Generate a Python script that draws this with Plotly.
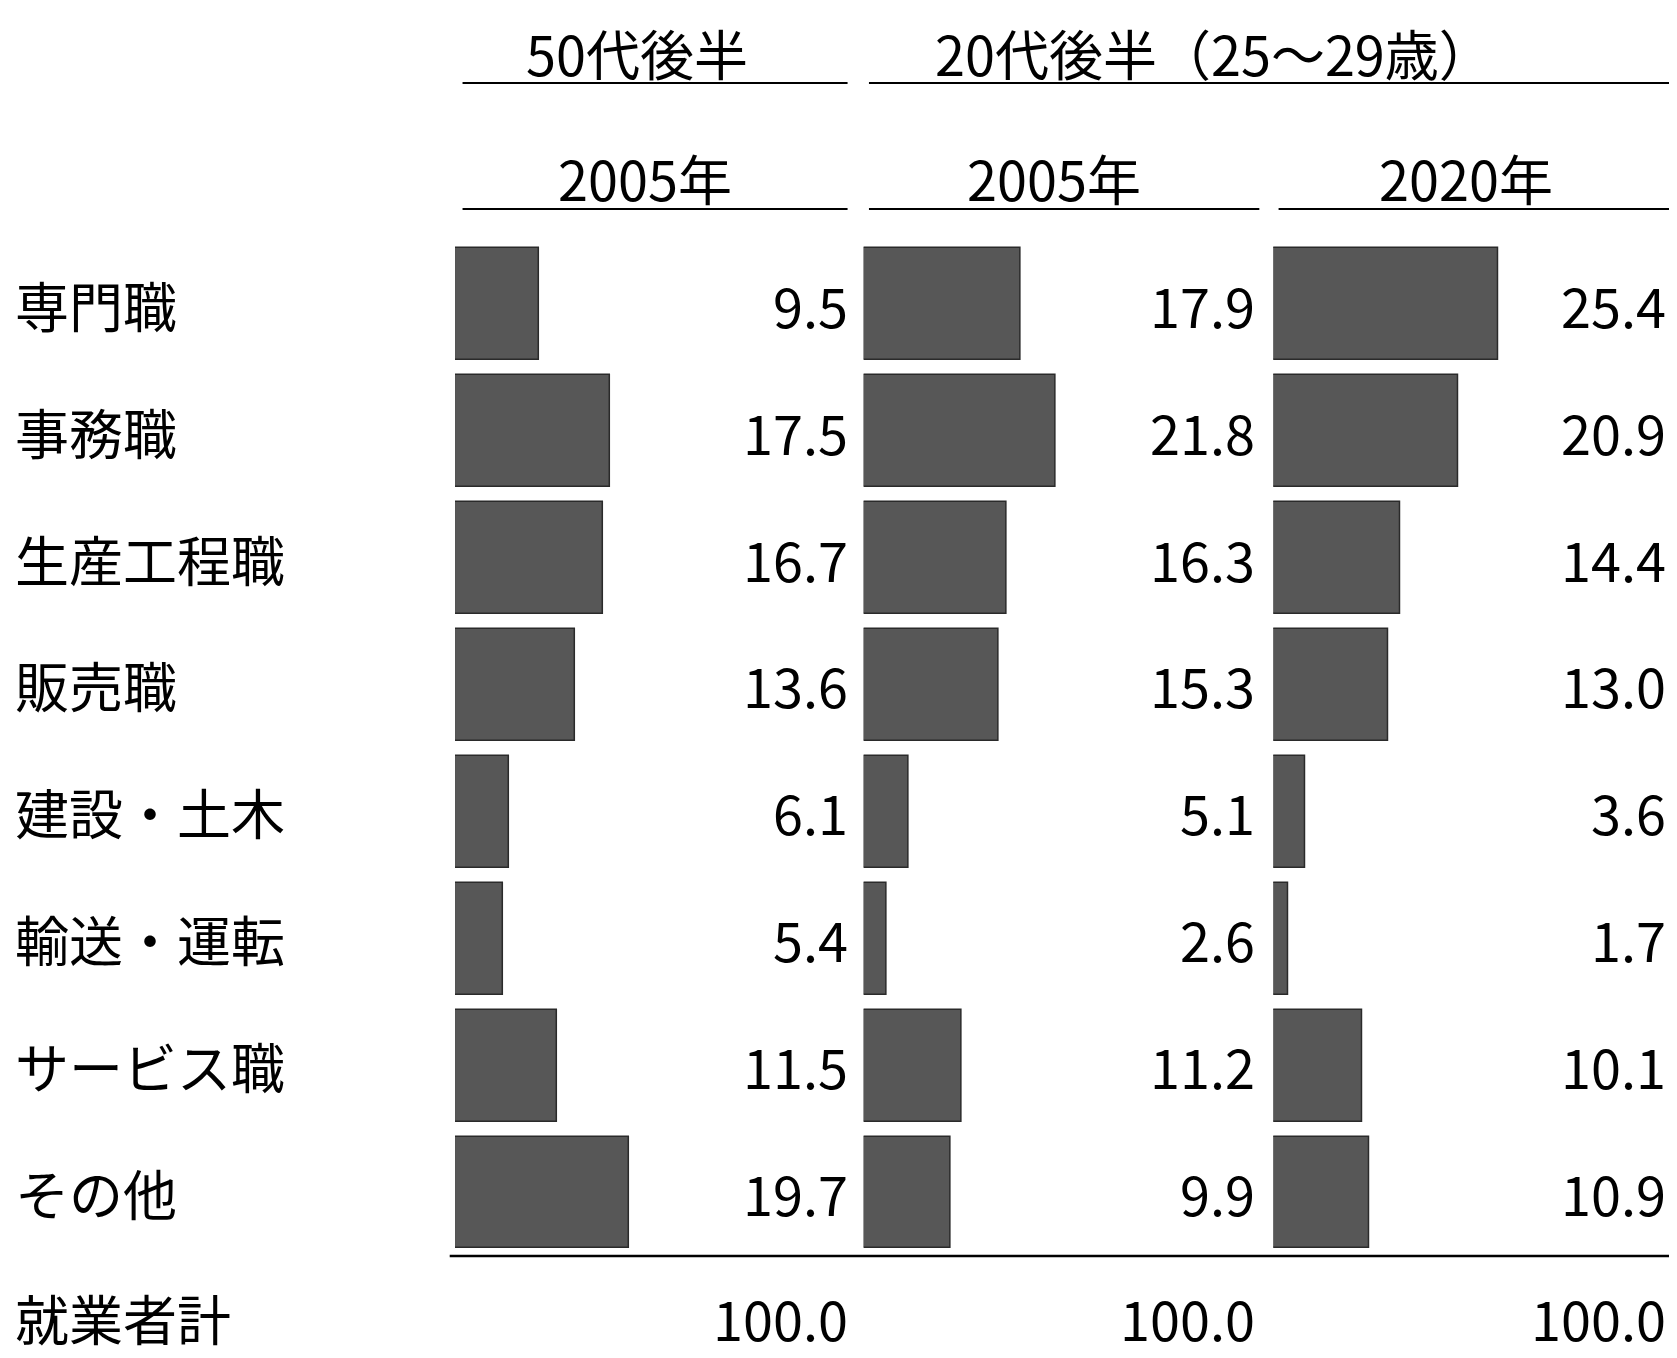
import plotly.graph_objects as go

categories = ["専門職", "事務職", "生産工程職", "販売職", "建設・土木", "輸送・運転", "サービス職", "その他"]
s50_2005 = [9.5, 17.5, 16.7, 13.6, 6.1, 5.4, 11.5, 19.7]
s20_2005 = [17.9, 21.8, 16.3, 15.3, 5.1, 2.6, 11.2, 9.9]
s20_2020 = [25.4, 20.9, 14.4, 13.0, 3.6, 1.7, 10.1, 10.9]
total_label = "就業者計"
totals = ["100.0", "100.0", "100.0"]
series = [s50_2005, s20_2005, s20_2020]
year_labels = ["2005年", "2005年", "2020年"]
group_labels = ["50代後半", "20代後半（25～29歳）"]

W = 1568.0
doms = [[418/W, 790/W], [800/W, 1170/W], [1183/W, 1555/W]]
right_edge = [787/W, 1168/W, 1552/W]
year_left = [512/W, 895/W, 1280/W]
FONT = "Noto Sans CJK JP"
fig = go.Figure()
ys = list(range(len(categories)))
for k, vals in enumerate(series):
    xa = "x" if k == 0 else f"x{k+1}"
    fig.add_trace(go.Bar(x=vals, y=ys, orientation="h", xaxis=xa, yaxis="y",
                         marker=dict(color="#575757", line=dict(color="#2a2a2a", width=1.5)),
                         width=0.88, showlegend=False, hoverinfo="x"))
    for i, v in enumerate(vals):
        fig.add_annotation(x=right_edge[k], xref="paper", y=i, yref="y", text=f"{v:.1f}",
                           showarrow=False, xanchor="right", font=dict(size=54, color="black", family=FONT))
    fig.add_annotation(x=right_edge[k], xref="paper", y=7.98, yref="y", text=totals[k],
                       showarrow=False, xanchor="right", font=dict(size=54, color="black", family=FONT))
    x0, x1 = [425/W, 805/W, 1188/W][k], [785/W, 1170/W, 1555/W][k]
    fig.add_annotation(x=year_left[k], xref="paper", y=-1.0, yref="y", text=year_labels[k],
                       showarrow=False, xanchor="left", font=dict(size=54, color="black", family=FONT))
    fig.add_shape(type="line", xref="paper", yref="y", x0=x0, x1=x1, y0=-0.75, y1=-0.75,
                  line=dict(color="black", width=2))

for i, c in enumerate(categories):
    fig.add_annotation(x=5/W, xref="paper", y=i, yref="y", text=c, showarrow=False,
                       xanchor="left", font=dict(size=54, color="black", family=FONT))
fig.add_annotation(x=5/W, xref="paper", y=7.98, yref="y", text=total_label, showarrow=False,
                   xanchor="left", font=dict(size=54, color="black", family=FONT))

for (x0, x1), xl, t in zip([(425/W, 785/W), (805/W, 1555/W)], [482/W, 865/W], group_labels):
    fig.add_annotation(x=xl, xref="paper", y=-1.98, yref="y", text=t, showarrow=False,
                       xanchor="left", font=dict(size=54, color="black", family=FONT))
    fig.add_shape(type="line", xref="paper", yref="y", x0=x0, x1=x1, y0=-1.744, y1=-1.744,
                  line=dict(color="black", width=2))

fig.add_shape(type="line", xref="paper", yref="y", x0=413/W, x1=1560/W, y0=7.5, y1=7.5,
              line=dict(color="black", width=2.5))

ax = dict(range=[0, 45], visible=False, fixedrange=True)
fig.update_layout(
    width=1677, height=1358, plot_bgcolor="white", paper_bgcolor="white",
    margin=dict(l=0, r=0, t=0, b=0),
    xaxis=dict(domain=doms[0], anchor="y", **ax),
    xaxis2=dict(domain=doms[1], anchor="y", **ax),
    xaxis3=dict(domain=doms[2], anchor="y", **ax),
    yaxis=dict(domain=[0, 1], range=[8.366, -2.334], visible=False),
    bargap=0,
)
fig.write_html("out.html")
